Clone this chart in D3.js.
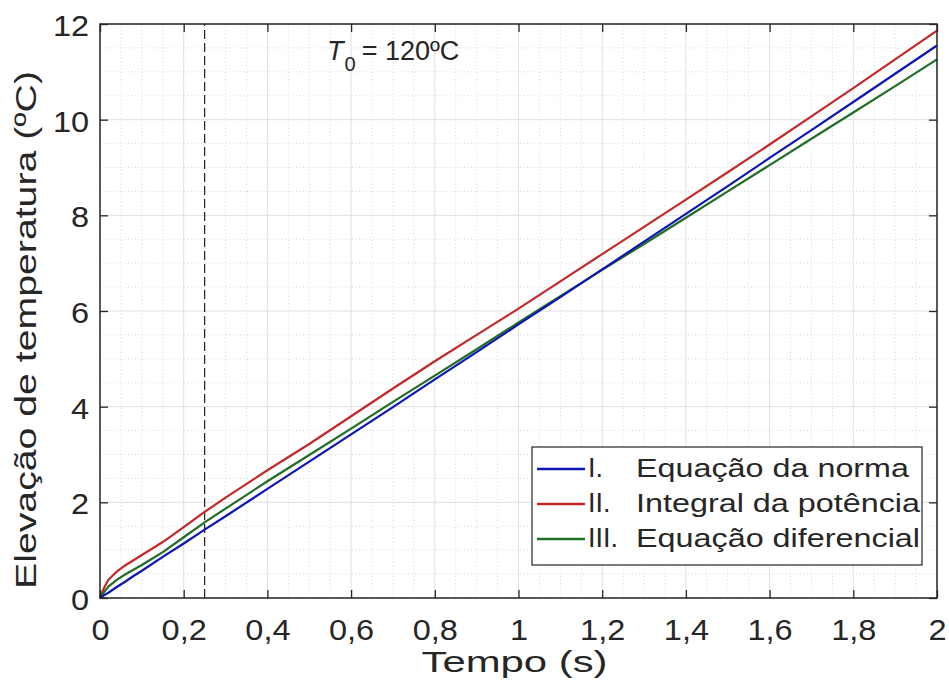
<!DOCTYPE html>
<html><head><meta charset="utf-8">
<script src="https://cdn.jsdelivr.net/npm/d3@7"></script>
<style>body{margin:0;background:#fff}svg{display:block}text{font-family:"Liberation Sans",Arial,sans-serif;fill:#262626}</style>
</head><body>
<script>
const time = [0,0.01,0.02,0.04,0.06,0.08,0.1,0.15,0.2,0.25,0.3,0.4,0.5,0.6,0.7,0.8,0.9,1.0,1.1,1.2,1.3,1.4,1.5,1.6,1.7,1.8,1.9,2.0];
const serieNorma = [0,0.06,0.11,0.23,0.34,0.46,0.57,0.86,1.14,1.43,1.71,2.28,2.85,3.42,3.99,4.57,5.14,5.72,6.29,6.87,7.45,8.03,8.61,9.2,9.78,10.37,10.96,11.55];
const seriePotencia = [0,0.22,0.38,0.55,0.68,0.79,0.9,1.17,1.48,1.8,2.1,2.67,3.22,3.8,4.38,4.95,5.5,6.05,6.62,7.19,7.76,8.33,8.9,9.48,10.07,10.66,11.26,11.86];
const serieDiferencial = [0,0.13,0.24,0.38,0.49,0.59,0.69,0.96,1.27,1.58,1.87,2.44,2.99,3.54,4.1,4.65,5.2,5.76,6.31,6.86,7.4,7.95,8.5,9.05,9.6,10.15,10.7,11.26];
const seriesNames = ["Equação da norma","Integral da potência","Equação diferencial"];
const seriesPrefix = ["I.","II.","III."];
const seriesColors = ["#0c16b4","#c42828","#1f6e25"];
const xTicks = [0,0.2,0.4,0.6,0.8,1,1.2,1.4,1.6,1.8,2];
const yTicks = [0,2,4,6,8,10,12];
const markerT = 0.25;

const W=949,H=688;
const m={l:100,r:12,t:24,b:90};
const svg=d3.select("body").append("svg").attr("width",W).attr("height",H);
const x=d3.scaleLinear().domain([0,2]).range([m.l,W-m.r]);
const y=d3.scaleLinear().domain([0,12]).range([H-m.b,m.t]);
const X0=x(0),X1=x(2),Y0=y(0),Y1=y(12);

// minor grid
const g=svg.append("g");
d3.range(0,2.0001,0.05).forEach(v=>{ if(Math.abs(v*5-Math.round(v*5))>1e-6)
  g.append("line").attr("x1",x(v)).attr("x2",x(v)).attr("y1",Y0).attr("y2",Y1).attr("stroke","#d8d8d8").attr("stroke-width",1).attr("stroke-dasharray","1,2.5");});
d3.range(0,12.0001,0.5).forEach(v=>{ if(Math.abs(v/2-Math.round(v/2))>1e-6)
  g.append("line").attr("y1",y(v)).attr("y2",y(v)).attr("x1",X0).attr("x2",X1).attr("stroke","#d8d8d8").attr("stroke-width",1).attr("stroke-dasharray","1,2.5");});
// major grid
xTicks.forEach(v=>g.append("line").attr("x1",x(v)).attr("x2",x(v)).attr("y1",Y0).attr("y2",Y1).attr("stroke","#e0e0e0").attr("stroke-width",1));
yTicks.forEach(v=>g.append("line").attr("y1",y(v)).attr("y2",y(v)).attr("x1",X0).attr("x2",X1).attr("stroke","#e0e0e0").attr("stroke-width",1));

// dashed marker
svg.append("line").attr("x1",x(markerT)).attr("x2",x(markerT)).attr("y1",Y0).attr("y2",Y1)
  .attr("stroke","#222").attr("stroke-width",1.2).attr("stroke-dasharray","9,4");

// series
const data=[serieNorma,seriePotencia,serieDiferencial];
const line=d3.line().x((d,i)=>x(time[i])).y(d=>y(d));
[1,2,0].forEach(k=>{
  svg.append("path").datum(data[k]).attr("d",line).attr("fill","none").attr("stroke",seriesColors[k]).attr("stroke-width",2.2);
});

// axes box and ticks
svg.append("rect").attr("x",X0).attr("y",Y1).attr("width",X1-X0).attr("height",Y0-Y1).attr("fill","none").attr("stroke","#262626").attr("stroke-width",1.5);
const ax=svg.append("g").attr("transform",`translate(0,${Y0})`).call(d3.axisBottom(x).tickValues(xTicks).tickSizeInner(-8).tickSizeOuter(0).tickPadding(14).tickFormat(d=>String(d).replace(".",",")));
const axT=svg.append("g").attr("transform",`translate(0,${Y1})`).call(d3.axisTop(x).tickValues(xTicks).tickSizeInner(-8).tickSizeOuter(0).tickFormat(""));
const ay=svg.append("g").attr("transform",`translate(${X0},0)`).call(d3.axisLeft(y).tickValues(yTicks).tickSizeInner(-8).tickSizeOuter(0).tickPadding(14));
const ayR=svg.append("g").attr("transform",`translate(${X1},0)`).call(d3.axisRight(y).tickValues(yTicks).tickSizeInner(-8).tickSizeOuter(0).tickFormat(""));
[ax,axT,ay,ayR].forEach(a=>{a.select(".domain").remove();a.selectAll(".tick line").attr("stroke","#262626").attr("stroke-width",1.3);});
ax.selectAll(".tick text").attr("font-size",29).attr("fill","#262626").attr("font-family","Liberation Sans, Arial, sans-serif").attr("dy","0.71em").attr("y",21);
ay.selectAll(".tick text").attr("font-size",29).attr("fill","#262626").attr("font-family","Liberation Sans, Arial, sans-serif").attr("dy","0.4em").attr("x",-11);
[ax,ay].forEach(a=>a.selectAll(".tick text").each(function(){
  const w=this.getComputedTextLength();
  d3.select(this).attr("textLength",w*1.12).attr("lengthAdjust","spacingAndGlyphs");
}));

// axis labels
svg.append("text").attr("x",(X0+X1)/2-4).attr("y",672).attr("text-anchor","middle").attr("font-size",30)
  .attr("textLength",186).attr("lengthAdjust","spacingAndGlyphs").text("Tempo (s)");
svg.append("text").attr("transform","translate(36,330) rotate(-90)").attr("text-anchor","middle").attr("font-size",30)
  .attr("textLength",518).attr("lengthAdjust","spacingAndGlyphs").text("Elevação de temperatura (ºC)");

// annotation
const ann=svg.append("text").attr("x",327).attr("y",60).attr("font-size",27);
ann.append("tspan").attr("font-style","italic").text("T");
ann.append("tspan").attr("font-size",20).attr("dy",11).attr("dx",1).text("0");
ann.append("tspan").attr("dy",-11).attr("dx",6).text("= 120ºC");

// legend
const lg=svg.append("g");
lg.append("rect").attr("x",532).attr("y",447).attr("width",390).attr("height",118).attr("fill","#fff").attr("stroke","#262626").attr("stroke-width",1.2);
const baselines=[477,512,547];
const lens=[273,284,284];
seriesNames.forEach((n,i)=>{
  lg.append("line").attr("x1",537).attr("x2",585).attr("y1",baselines[i]-8).attr("y2",baselines[i]-8).attr("stroke",seriesColors[i]).attr("stroke-width",2.4);
  lg.append("text").attr("x",588).attr("y",baselines[i]).attr("font-size",27).attr("fill","#111").text(seriesPrefix[i]);
  lg.append("text").attr("x",636).attr("y",baselines[i]).attr("font-size",26).attr("fill","#111")
    .attr("textLength",lens[i]).attr("lengthAdjust","spacingAndGlyphs").text(n);
});
</script>
</body></html>
